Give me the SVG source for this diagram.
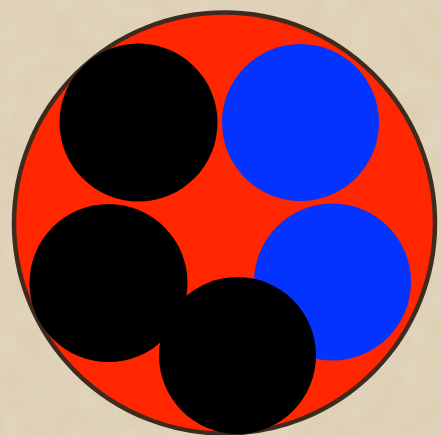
<svg xmlns="http://www.w3.org/2000/svg" width="441" height="435" viewBox="0 0 441 435">
  <defs>
    <filter id="paper" x="0" y="0" width="100%" height="100%">
      <feTurbulence type="fractalNoise" baseFrequency="0.04" numOctaves="3" seed="3" result="n"/>
      <feColorMatrix in="n" type="matrix" values="0 0 0 0 0.85  0 0 0 0 0.79  0 0 0 0 0.68  0 0 0 0.35 0" result="c"/>
      <feComposite in="c" in2="SourceGraphic" operator="over"/>
    </filter>
    <style>
      .black { fill: #000000; }
      .blue { fill: #0433ff; }
    </style>
  </defs>
  <rect x="0" y="0" width="441" height="435" fill="#dccdb1" filter="url(#paper)"/>
  <g id="outer">
    <circle cx="224.5" cy="223" r="210.5" fill="#ff2600" stroke="#3e2a1f" stroke-width="4.5"/>
  </g>
  <g id="black-top-left"><circle class="black" cx="138.5" cy="122.5" r="79"/></g>
  <g id="blue-top-right"><circle class="blue" cx="300.5" cy="122.5" r="78.5"/></g>
  <g id="black-mid-left"><circle class="black" cx="108.5" cy="283" r="79"/></g>
  <g id="blue-mid-right"><circle class="blue" cx="332.5" cy="282" r="78.5"/></g>
  <g id="black-bottom"><circle class="black" cx="237.5" cy="355.5" r="78.5"/></g>
</svg>
